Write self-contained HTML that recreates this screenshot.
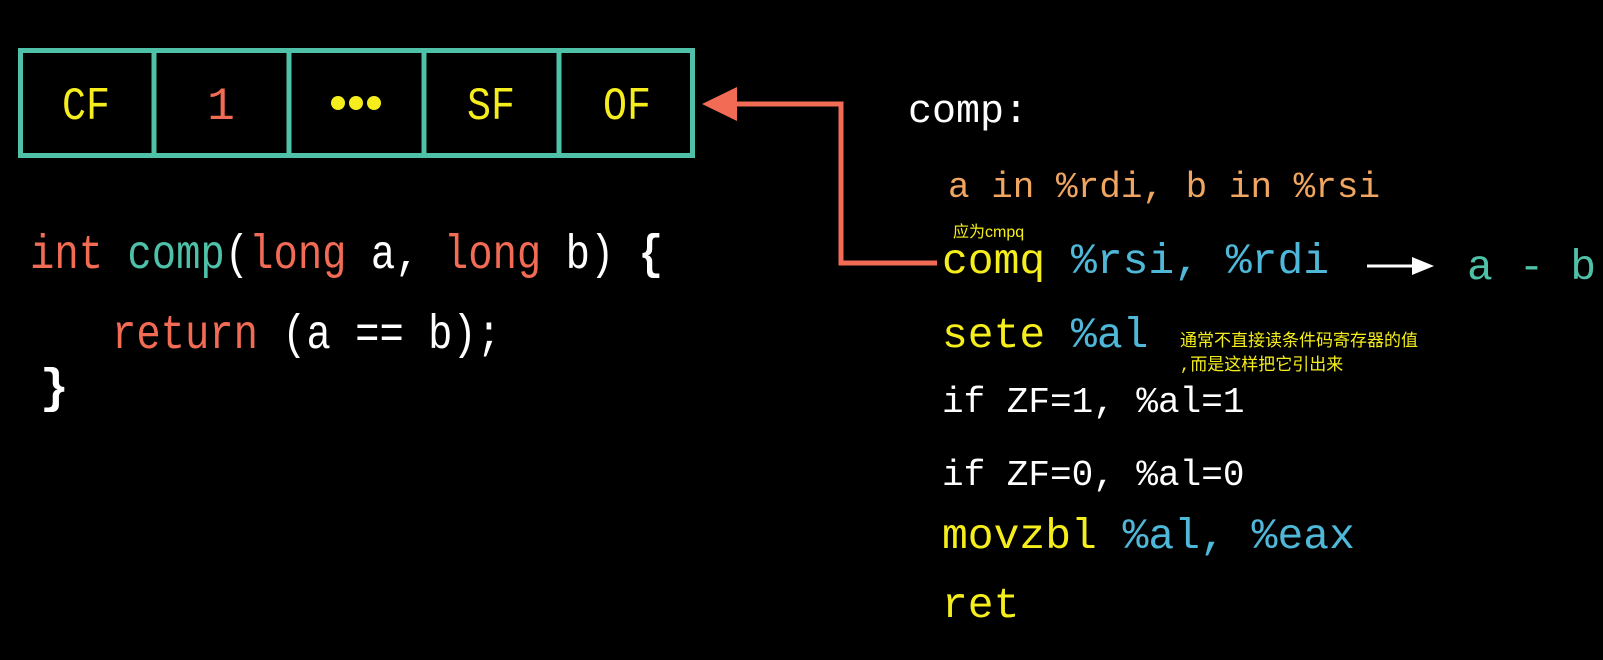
<!DOCTYPE html>
<html><head><meta charset="utf-8"><style>
html,body{margin:0;padding:0;background:#000;width:1603px;height:660px;overflow:hidden}
svg{display:block}
text{font-family:"Liberation Mono","Noto Sans CJK SC",monospace}
</style></head><body>
<svg width="1603" height="660" viewBox="0 0 1603 660" xmlns="http://www.w3.org/2000/svg">
<rect width="1603" height="660" fill="#000"/>
<rect x="20.5" y="50.5" width="672" height="105" fill="none" stroke="#4fc1a9" stroke-width="5"/>
<g stroke="#4fc1a9" stroke-width="5">
<line x1="154" y1="50" x2="154" y2="156"/><line x1="289" y1="50" x2="289" y2="156"/>
<line x1="424" y1="50" x2="424" y2="156"/><line x1="559" y1="50" x2="559" y2="156"/>
</g>
<g font-size="46" text-anchor="middle">
<text x="86" y="119" fill="#f5ee1c" textLength="48" lengthAdjust="spacingAndGlyphs">CF</text>
<text x="221" y="119" fill="#f26b55">1</text>
<text x="491" y="119" fill="#f5ee1c" textLength="48" lengthAdjust="spacingAndGlyphs">SF</text>
<text x="627" y="119" fill="#f5ee1c" textLength="48" lengthAdjust="spacingAndGlyphs">OF</text>
</g>
<g fill="#f5ee1c"><circle cx="338" cy="103" r="7"/><circle cx="356" cy="103" r="7"/><circle cx="374" cy="103" r="7"/></g>
<path d="M937 263 H841 V104 H730" fill="none" stroke="#f26b55" stroke-width="5"/>
<polygon points="702,104 737,87 737,121" fill="#f26b55"/>
<text x="30" y="268" font-size="48" textLength="633" lengthAdjust="spacingAndGlyphs"><tspan fill="#f26b55">int</tspan><tspan fill="#fff"> </tspan><tspan fill="#4fc1a9">comp</tspan><tspan fill="#fff">(</tspan><tspan fill="#f26b55">long</tspan><tspan fill="#fff"> a, </tspan><tspan fill="#f26b55">long</tspan><tspan fill="#fff"> b) </tspan><tspan fill="#fff" font-weight="bold">{</tspan></text>
<text x="112" y="348" font-size="48" textLength="389" lengthAdjust="spacingAndGlyphs"><tspan fill="#f26b55">return</tspan><tspan fill="#fff"> (a == b);</tspan></text>
<text x="40" y="402" font-size="48" fill="#fff" font-weight="bold">}</text>
<text x="908" y="122" font-size="40" fill="#fff">comp:</text>
<text x="948" y="197" font-size="36" fill="#f0a560">a in %rdi, b in %rsi</text>
<text x="953" y="237" font-size="16" fill="#f5ee1c" style="font-family:'Liberation Sans','Noto Sans CJK SC',sans-serif">应为cmpq</text>
<text x="942" y="273" font-size="43"><tspan fill="#f5ee1c">comq</tspan><tspan fill="#4fb8d8"> %rsi, %rdi</tspan></text>
<line x1="1367" y1="266" x2="1416" y2="266" stroke="#fff" stroke-width="3"/>
<polygon points="1434,266 1412,257 1412,275" fill="#fff"/>
<text x="1467" y="279" font-size="43" fill="#4fc1a9">a - b</text>
<text x="942" y="347" font-size="43"><tspan fill="#f5ee1c">sete</tspan><tspan fill="#4fb8d8"> %al</tspan></text>
<g font-size="17" fill="#f5ee1c" style="font-family:'Liberation Sans','Noto Sans CJK SC',sans-serif">
<text x="1180" y="346">通常不直接读条件码寄存器的值</text>
<text x="1180" y="370">,而是这样把它引出来</text>
</g>
<text x="942" y="412" font-size="36" fill="#fff">if ZF=1, %al=1</text>
<text x="942" y="485" font-size="36" fill="#fff">if ZF=0, %al=0</text>
<text x="942" y="548" font-size="43"><tspan fill="#f5ee1c">movzbl</tspan><tspan fill="#4fb8d8"> %al, %eax</tspan></text>
<text x="942" y="617" font-size="43" fill="#f5ee1c">ret</text>
</svg>
</body></html>
